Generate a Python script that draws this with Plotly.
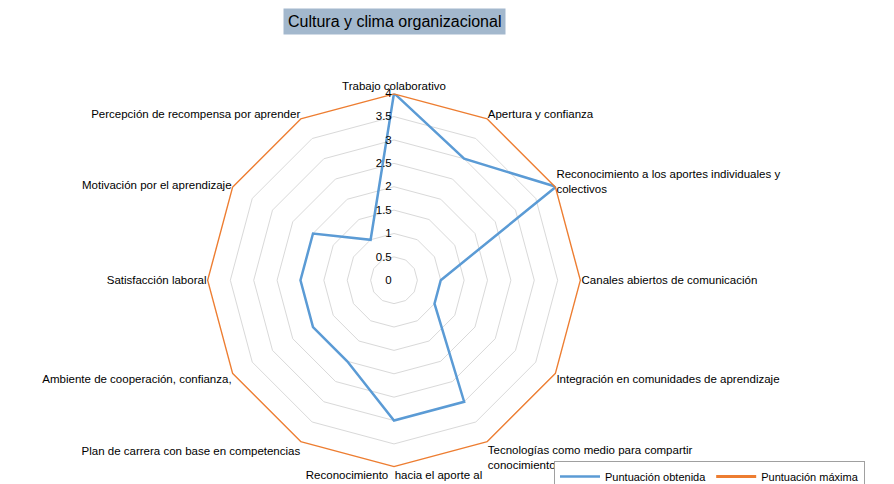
import plotly.graph_objects as go

categories = [
    "Trabajo colaborativo",
    "Apertura y confianza",
    "Reconocimiento a los aportes individuales y<br>colectivos",
    "Canales abiertos de comunicación",
    "Integración en comunidades de aprendizaje",
    "Tecnologías como medio para compartir<br>conocimiento",
    "Reconocimiento  hacia el aporte al<br>conocimiento organizacional",
    "Plan de carrera con base en competencias",
    "Ambiente de cooperación, confianza,",
    "Satisfacción laboral",
    "Motivación por el aprendizaje",
    "Percepción de recompensa por aprender",
]
obtenida = [4, 3, 4, 1, 1, 3, 3, 2, 2, 2, 2, 1]
maxima = [4] * 12
tick_vals = [0, 0.5, 1, 1.5, 2, 2.5, 3, 3.5, 4]
tick_text = ["0", "0.5", "1", "1.5", "2", "2.5", "3", "3.5", "4"]

W, H = 894, 484
cx, cy, R = 386, 278, 191

fig = go.Figure()
fig.add_trace(go.Scatterpolar(
    r=obtenida + obtenida[:1], theta=categories + categories[:1],
    mode="lines", name="Puntuación obtenida",
    line=dict(color="#5B9BD5", width=2.5)))
fig.add_trace(go.Scatterpolar(
    r=maxima + maxima[:1], theta=categories + categories[:1],
    mode="lines", name="Puntuación máxima",
    line=dict(color="#ED7D31", width=2.8)))

fig.update_layout(
    width=W, height=H,
    margin=dict(l=0, r=0, t=0, b=0),
    paper_bgcolor="white",
    font=dict(family="Liberation Sans, Arial, sans-serif", size=11.5, color="#000"),
    polar=dict(
        domain=dict(x=[(cx - R) / W, (cx + R) / W],
                    y=[(H - cy - R) / H, (H - cy + R) / H]),
        gridshape="linear",
        bgcolor="white",
        radialaxis=dict(range=[0, 4], tickvals=tick_vals, ticktext=tick_text,
                        angle=90, tickangle=90, side="counterclockwise",
                        showline=False, ticks="",
                        gridcolor="#d9d9d9", gridwidth=1,
                        tickfont=dict(size=11.5)),
        angularaxis=dict(rotation=90, direction="clockwise", showgrid=False,
                         showline=False, ticks="", tickfont=dict(size=11.5)),
    ),
    showlegend=True,
    legend=dict(orientation="h", x=546 / W, xanchor="left", y=21 / H, yanchor="top",
                bordercolor="#a0a0a0", borderwidth=1, font=dict(size=11),
                itemwidth=40, tracegroupgap=0),
    annotations=[dict(text="Cultura y clima organizacional", x=386 / W, y=1 - 14 / H,
                      xref="paper", yref="paper", showarrow=False,
                      xanchor="center", yanchor="middle",
                      font=dict(size=16, color="#000"), bgcolor="#A3B8CD",
                      borderpad=4)],
)

fig.write_html("out.html")
